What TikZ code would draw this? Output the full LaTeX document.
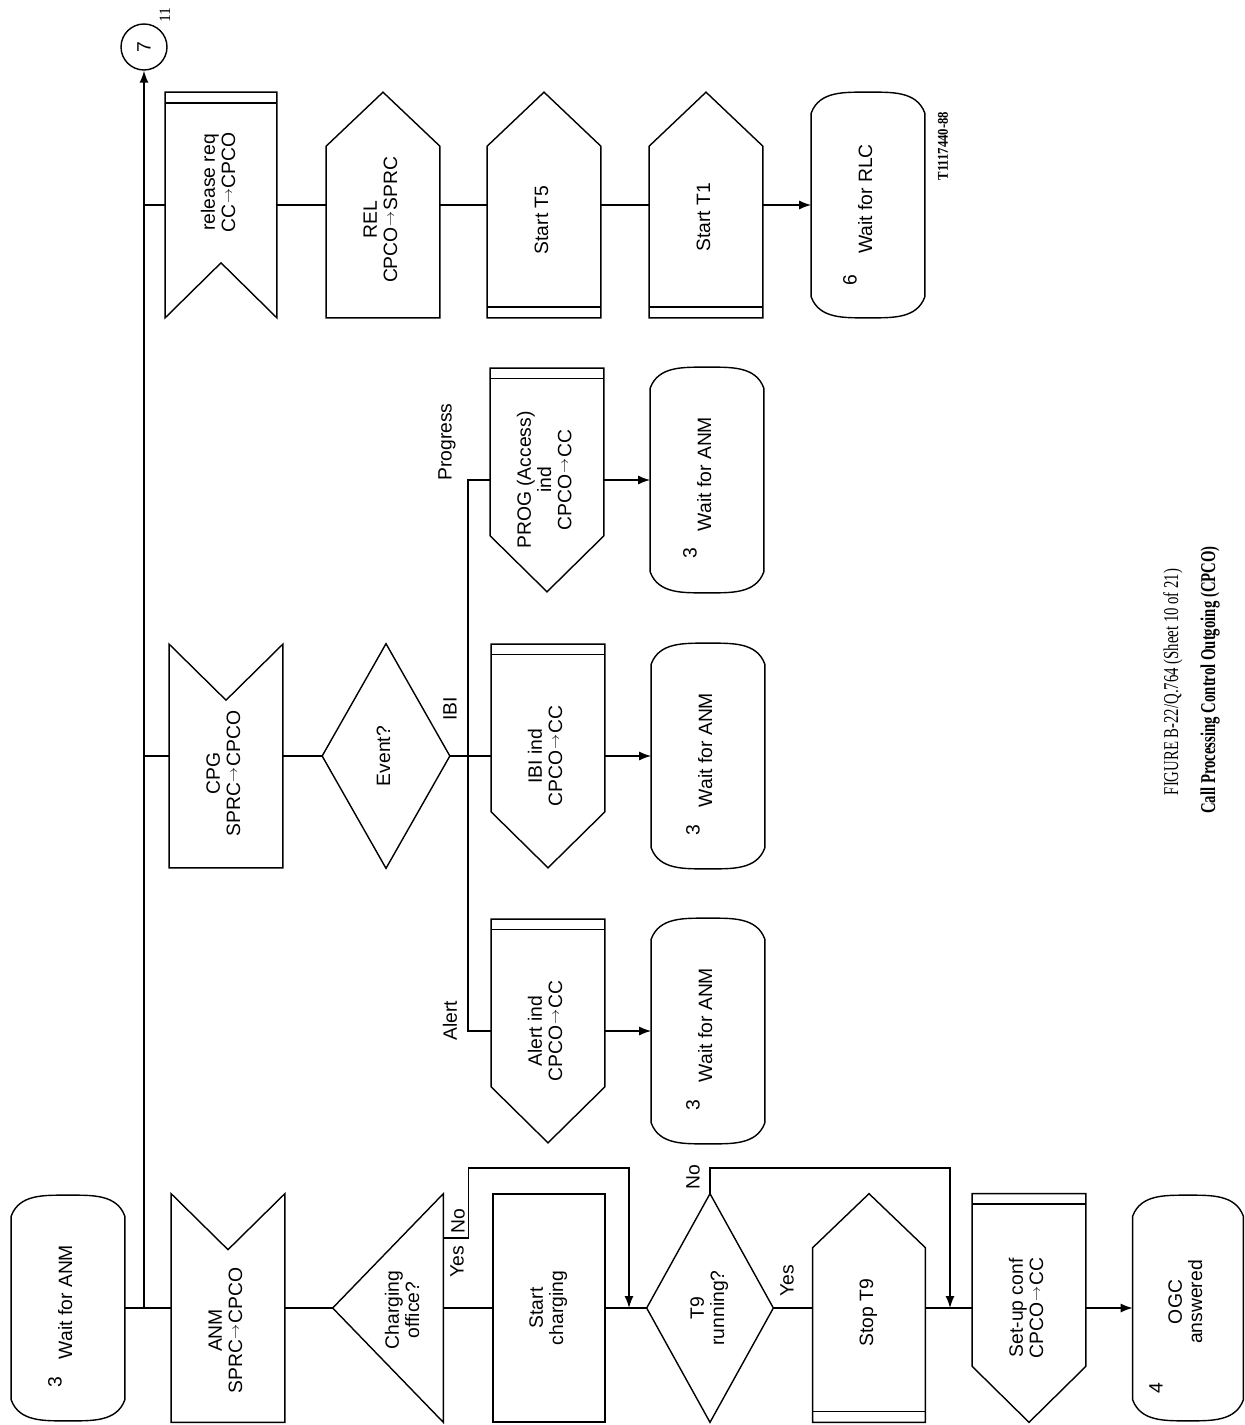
\documentclass[tikz,border=0pt]{standalone}
\usepackage{fontspec}
\usepackage{graphicx}
\usetikzlibrary{arrows.meta,calc}
\newfontfamily\sdlfont{Liberation Sans}
\newfontfamily\capfont{Liberation Serif}
\newcommand{\tto}{\kern0.4pt\raisebox{0.3ex}{\scalebox{0.78}[0.7]{$\rightarrow$}}\kern0.4pt}
\newcommand{\vt}[2][0pt]{\rotatebox{90}{\hspace*{#1}\begin{tabular}{@{}c@{}}#2\end{tabular}}}
\tikzset{
  sdl/.style    = {draw=black, line width=0.8pt},
  ar/.style     = {sdl, -{Latex[length=2.4mm,width=1.8mm]}},
  symbox/.style = {rectangle, inner sep=0pt, minimum width=2.26cm, minimum height=4.56cm,
                   font=\sdlfont\fontsize{11}{11.5}\selectfont}
}
% SDL outlines, drawn from the anchors of a named box
\newcommand{\statesym}[1]{\draw[sdl] ([yshift=-0.42cm]#1.north west) to[out=70,in=180] (#1.north)
  to[out=0,in=110] ([yshift=-0.42cm]#1.north east) -- ([yshift=0.42cm]#1.south east)
  to[out=-110,in=0] (#1.south) to[out=180,in=-70] ([yshift=0.42cm]#1.south west) -- cycle;}
\newcommand{\inputsym}[1]{\draw[sdl] (#1.north west) -- ([yshift=-1.12cm]#1.north) -- (#1.north east)
  -- (#1.south east) -- (#1.south west) -- cycle;}
\newcommand{\inbarsym}[1]{\draw[sdl] (#1.north west) -- (#1.north east) -- (#1.south east)
  -- ([yshift=1.1cm]#1.south) -- (#1.south west) -- cycle;
  \draw[sdl] ([yshift=-0.22cm]#1.north west) -- ([yshift=-0.22cm]#1.north east);}
\newcommand{\timersym}[1]{\draw[sdl] (#1.south west) -- ([yshift=-1.08cm]#1.north west) -- (#1.north)
  -- ([yshift=-1.08cm]#1.north east) -- (#1.south east) -- cycle;}
\newcommand{\timerbarsym}[1]{\timersym{#1}
  \draw[sdl] ([yshift=0.22cm]#1.south west) -- ([yshift=0.22cm]#1.south east);}
\newcommand{\outputsym}[1]{\draw[sdl] (#1.north west) -- (#1.north east) -- ([yshift=1.12cm]#1.south east)
  -- (#1.south) -- ([yshift=1.12cm]#1.south west) -- cycle;
  \draw[sdl] ([yshift=-0.21cm]#1.north west) -- ([yshift=-0.21cm]#1.north east);}
\newcommand{\decisym}[1]{\draw[sdl] (#1.west) -- (#1.north) -- (#1.east) -- (#1.south) -- cycle;}
\newcommand{\trisym}[1]{\draw[sdl] (#1.west) -- (#1.north east) -- (#1.south east) -- cycle;}

\begin{document}
\begin{tikzpicture}[
    x=0.02cm, y=-0.02cm,
    statebox/.style={symbox, minimum height=4.5cm},
    taskbox/.style={symbox, sdl},
    lab/.style={font=\sdlfont\fontsize{11}{11.5}\selectfont, inner sep=0pt, rotate=90},
    captext/.style={font=\capfont\fontsize{12}{14}\selectfont, inner sep=0pt, rotate=90},
    tagtext/.style={font=\capfont\fontsize{9}{10}\selectfont, inner sep=0pt, rotate=90}
  ]
  \useasboundingbox (0,0) rectangle (1244,1425);

  % ===================== main row: ANM received =====================
  \node[statebox] (s3a) at (68,1308) {\vt[0.24cm]{Wait for ANM}};
  \node[symbox] (anm) at (228,1308) {\vt[-0.9cm]{ANM\\SPRC\tto CPCO}};
  \node[symbox, minimum width=2.2cm] (chg) at (388,1308) {};
  \node[lab] (chgtxt) at (405,1310) {\begin{tabular}{@{}c@{}}Charging\\office?\end{tabular}};
  \node[taskbox, minimum width=2.24cm] (stc) at (549,1308) {\vt{Start\\charging}};
  \node[symbox, minimum width=2.52cm] (t9) at (710,1308) {\vt{T9\\running?}};
  \node[symbox, minimum width=2.24cm] (stop) at (869,1308) {\vt[-0.2cm]{Stop T9}};
  \node[symbox] (setup) at (1029,1308) {\vt{Set-up conf\\CPCO\tto CC}};
  \node[statebox, minimum width=2.2cm] (s4) at (1188,1308) {\vt[0.24cm]{OGC\\answered}};

  % ===================== top row: release request =====================
  \node[symbox, minimum width=2.22cm, minimum height=4.5cm] (rr) at (221,205) {\vt[0.9cm]{release req\\CC\tto CPCO}};
  \node[symbox, minimum height=4.5cm] (rel) at (383,205) {\vt[-0.6cm]{REL\\CPCO\tto SPRC}};
  \node[symbox, minimum height=4.5cm] (t5) at (544,205) {\vt[-0.6cm]{Start T5}};
  \node[symbox, minimum height=4.5cm] (t1) at (706,205) {\vt[-0.5cm]{Start T1}};
  \node[statebox] (s6) at (868,205) {\vt[0.24cm]{Wait for RLC}};

  % ===================== middle rows: CPG received =====================
  \node[symbox, minimum height=4.46cm] (cpg) at (226,756) {\vt[-0.7cm]{CPG\\SPRC\tto CPCO}};
  \node[symbox, minimum width=2.54cm, minimum height=4.48cm] (ev) at (386,756) {\vt{Event?}};
  \node[symbox, minimum height=4.46cm] (prog) at (547,480) {\vt{PROG (Access)\\ind\\CPCO\tto CC}};
  \node[statebox] (s3b) at (707,480) {\vt[0.24cm]{Wait for ANM}};
  \node[symbox, minimum height=4.46cm] (ibi) at (548,756) {\vt{IBI ind\\CPCO\tto CC}};
  \node[statebox] (s3c) at (708,756) {\vt[0.24cm]{Wait for ANM}};
  \node[symbox, minimum height=4.46cm] (al) at (548,1031) {\vt{Alert ind\\CPCO\tto CC}};
  \node[statebox] (s3d) at (708,1031) {\vt[0.24cm]{Wait for ANM}};

  % connector 7
  \node[circle, sdl, minimum size=0.92cm, inner sep=0pt, font=\sdlfont\fontsize{11}{11.5}\selectfont] (c7) at (144,47) {\rotatebox{90}{7}};
  \node[tagtext] (c7n) at (165,15) {11};

  % ===================== outlines =====================
  \foreach \n in {s3a,s3b,s3c,s3d,s4,s6} {\statesym{\n}}
  \foreach \n in {anm,cpg} {\inputsym{\n}}
  \inbarsym{rr}
  \timersym{rel}
  \foreach \n in {t5,t1,stop} {\timerbarsym{\n}}
  \foreach \n in {prog,ibi,al,setup} {\outputsym{\n}}
  \foreach \n in {ev,t9} {\decisym{\n}}
  \trisym{chg}

  % ===================== state numbers =====================
  \node[lab] (n3a) at (55,1382) {3};
  \node[lab] (n3b) at (690,553) {3};
  \node[lab] (n3c) at (693,830) {3};
  \node[lab] (n3d) at (693,1105) {3};
  \node[lab] (n4) at (1156,1388) {4};
  \node[lab] (n6) at (850,280) {6};

  % ===================== connectors =====================
  \coordinate (j1) at (144,1308);
  \coordinate (j2) at (468,756);
  \coordinate (m1) at (629,1308);
  \coordinate (m2) at (950,1308);
  \draw[sdl] (s3a.east) -- (anm.west);
  \draw[ar] (j1) -- (c7.south);
  \draw[sdl] (j1 |- rr.west) -- (rr.west);
  \draw[sdl] (j1 |- cpg.west) -- (cpg.west);
  \draw[sdl] (anm.east) -- (chg.west);
  \draw[sdl] (chg.east) -- (stc.west);
  \draw[ar] ([yshift=1.4cm]chg.east) -- ++(25,0) |- ([yshift=2.8cm]m1) -- (m1);
  \draw[sdl] (stc.east) -- (t9.west);
  \draw[ar] (t9.north) |- ([yshift=2.8cm]m2) -- (m2);
  \draw[sdl] (t9.east) -- (stop.west);
  \draw[sdl] (stop.east) -- (setup.west);
  \draw[ar] (setup.east) -- (s4.west);

  \draw[sdl] (rr.east) -- (rel.west);
  \draw[sdl] (rel.east) -- (t5.west);
  \draw[sdl] (t5.east) -- (t1.west);
  \draw[ar] (t1.east) -- (s6.west);

  \draw[sdl] (cpg.east) -- (ev.west);
  \draw[sdl] (ev.east) -- (ibi.west);
  \draw[sdl] (prog.west) -| (j2) |- (al.west);
  \foreach \a/\b in {prog/s3b, ibi/s3c, al/s3d} {\draw[ar] (\a.east) -- (\b.west);}

  % branch labels
  \node[lab] (lprog) at (447,442) {Progress};
  \node[lab] (libi) at (450,709) {IBI};
  \node[lab] (lal) at (450,1021) {Alert};
  \node[lab] (lyes1) at (457,1262) {Yes};
  \node[lab] (lno1) at (458,1221) {No};
  \node[lab] (lno2) at (693,1177) {No};
  \node[lab] (lyes2) at (787,1281) {Yes};

  % ===================== drawing number and caption =====================
  \node[tagtext, font=\capfont\bfseries\fontsize{8.5}{9}\selectfont] (figid) at (943,146) {\scalebox{0.85}[1]{T1117440-88}};
  \node[captext] (figno) at (1173,682) {\scalebox{0.7}[1]{FIGURE B-22/Q.764 (Sheet 10 of 21)}};
  \node[captext] (figtitle) at (1210,680) {\scalebox{0.7}[1]{\bfseries Call Processing Control Outgoing (CPCO)}};
\end{tikzpicture}
\end{document}
